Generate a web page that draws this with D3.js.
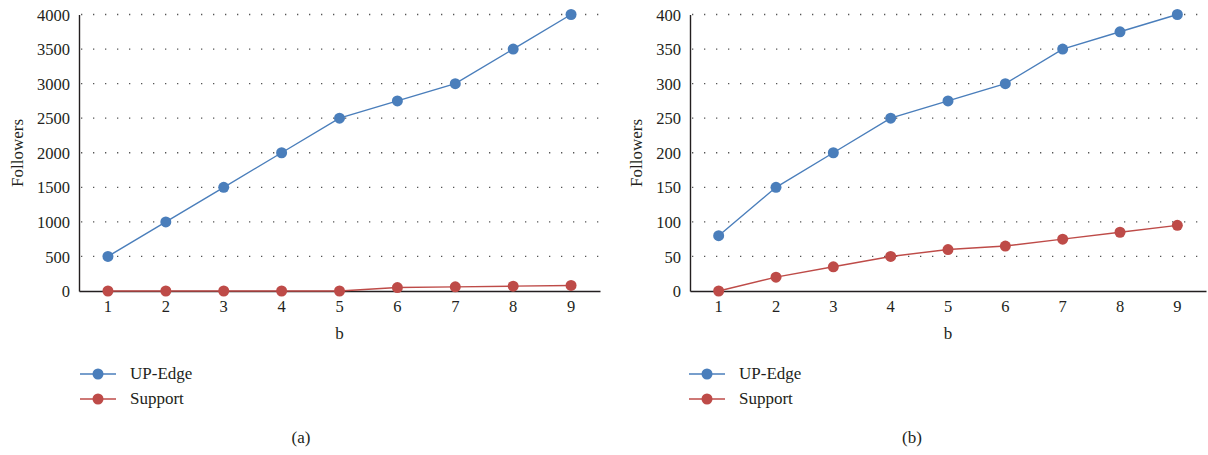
<!DOCTYPE html>
<html><head><meta charset="utf-8">
<script src="https://cdn.jsdelivr.net/npm/d3@7"></script>
<style>body{margin:0;background:#fff}</style>
</head><body><svg id="c" width="1208" height="455"></svg>
<script>
const categories = [1,2,3,4,5,6,7,8,9];
const upEdgeA = [500,1000,1500,2000,2500,2750,3000,3500,4000];
const supportA = [0,0,0,0,0,50,60,70,80];
const upEdgeB = [80,150,200,250,275,300,350,375,400];
const supportB = [0,20,35,50,60,65,75,85,95];
const ticksA = [0,500,1000,1500,2000,2500,3000,3500,4000];
const ticksB = [0,50,100,150,200,250,300,350,400];
const seriesNames = ["UP-Edge","Support"];
const colors = ["#4a7ebb","#be4b48"];
const FONT = '"Liberation Serif", "Times New Roman", serif';
const TXT = "#231f20";

const svg = d3.select("#c");
function styleText(sel, size){ sel.style("font-family",FONT).style("font-size",size+"px").style("fill",TXT); return sel; }
function panel(left, right, ticks, maxV, series, label, yLabelX, legendX, captionX){
  const top = 14.5, bottom = 291;
  const x = d3.scaleBand().domain(categories).range([left,right]);
  const y = d3.scaleLinear().domain([0,maxV]).range([bottom,top]);
  const g = svg.append("g");
  g.selectAll(".grid").data(ticks.filter(t=>t>0)).enter().append("line")
    .attr("x1",left+2).attr("x2",right).attr("y1",d=>y(d)).attr("y2",d=>y(d))
    .attr("stroke","#555").attr("stroke-width",1.3).attr("stroke-dasharray","1.3,10.7");
  const ya = g.append("g").attr("transform",`translate(${left},0)`)
    .call(d3.axisLeft(y).tickValues(ticks).tickSize(0).tickPadding(9).tickFormat(d3.format("d")));
  ya.select(".domain").attr("stroke",TXT).attr("stroke-width",1.4);
  styleText(ya.selectAll("text"),16.5).attr("dy","0.34em");
  const xa = g.append("g").attr("transform",`translate(0,${bottom})`)
    .call(d3.axisBottom(x).tickSize(0).tickPadding(9));
  xa.select(".domain").attr("stroke",TXT).attr("stroke-width",1.4);
  styleText(xa.selectAll("text"),16.5);
  styleText(g.append("text").attr("x",(left+right)/2).attr("y",339).attr("text-anchor","middle"),17).text("b");
  styleText(g.append("text").attr("transform",`translate(${yLabelX},153) rotate(-90)`).attr("text-anchor","middle"),17).text("Followers");
  const line = d3.line().x((d,i)=>x(categories[i])+x.bandwidth()/2).y(d=>y(d));
  series.forEach((s,k)=>{
    g.append("path").attr("d",line(s)).attr("fill","none").attr("stroke",colors[k]).attr("stroke-width",1.4);
    g.selectAll(".m"+k).data(s).enter().append("circle")
      .attr("cx",(d,i)=>x(categories[i])+x.bandwidth()/2).attr("cy",d=>y(d)).attr("r",5.5).attr("fill",colors[k]);
  });
  seriesNames.forEach((n,k)=>{
    const ly = 374 + k*25;
    g.append("line").attr("x1",legendX).attr("x2",legendX+36).attr("y1",ly).attr("y2",ly).attr("stroke",colors[k]).attr("stroke-width",1.4);
    g.append("circle").attr("cx",legendX+18).attr("cy",ly).attr("r",5.5).attr("fill",colors[k]);
    styleText(g.append("text").attr("x",legendX+50).attr("y",ly+5),17).text(n);
  });
  styleText(g.append("text").attr("x",captionX).attr("y",443).attr("text-anchor","middle"),17).text(label);
}
panel(79, 600, ticksA, 4000, [upEdgeA, supportA], "(a)", 23, 80, 301);
panel(690, 1206, ticksB, 400, [upEdgeB, supportB], "(b)", 642, 689, 912);
</script></body></html>
